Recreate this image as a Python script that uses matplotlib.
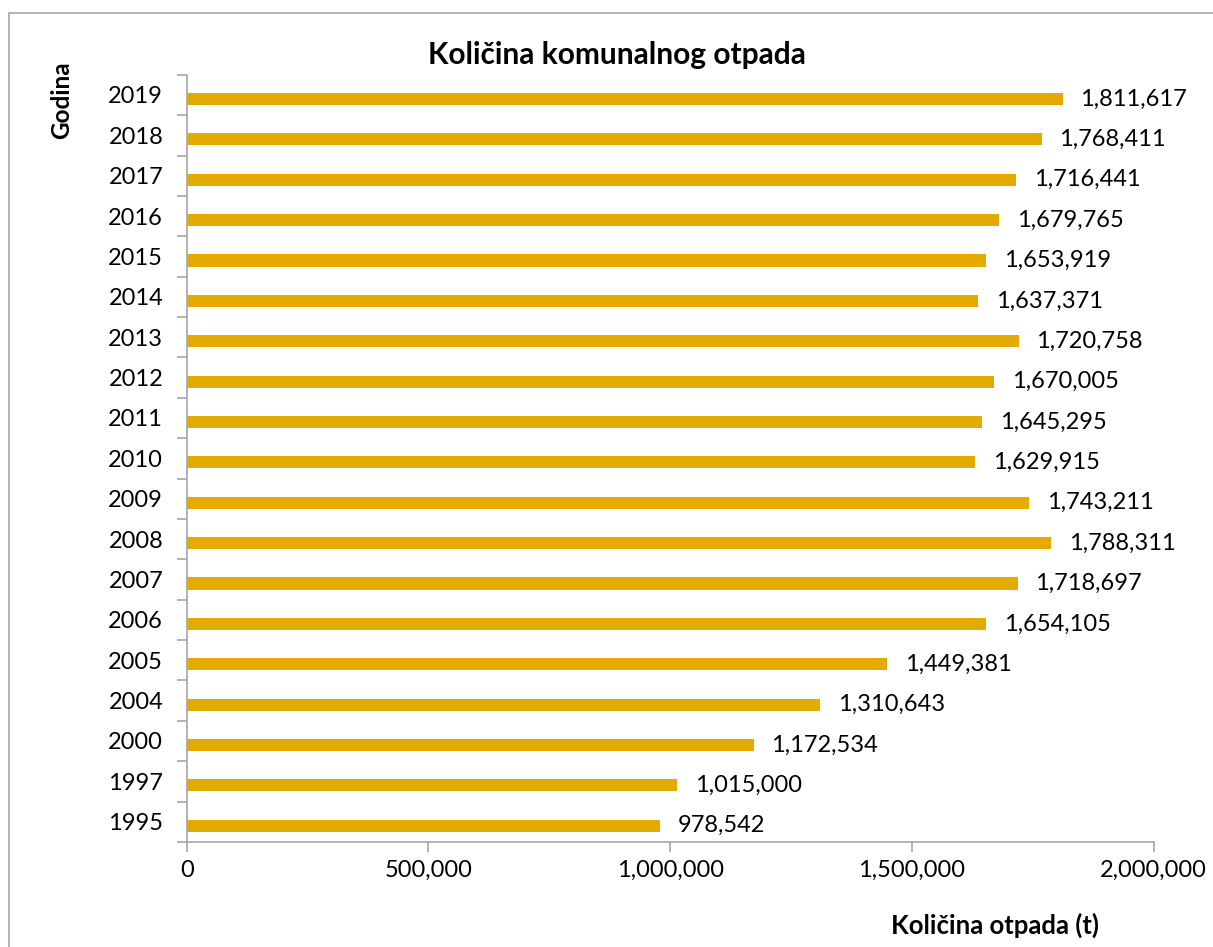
import matplotlib.pyplot as plt
import numpy as np
from matplotlib.patches import Rectangle
from matplotlib.ticker import FuncFormatter

years = ['1995', '1997', '2000', '2004', '2005', '2006', '2007', '2008', '2009', '2010',
         '2011', '2012', '2013', '2014', '2015', '2016', '2017', '2018', '2019']
waste = [978542, 1015000, 1172534, 1310643, 1449381, 1654105, 1718697, 1788311, 1743211, 1629915,
         1645295, 1670005, 1720758, 1637371, 1653919, 1679765, 1716441, 1768411, 1811617]

plt.rcParams['font.family'] = ['Lato', 'DejaVu Sans']
bar_color = '#E3AB00'
grey = '#A6A6A6'

fig = plt.figure(figsize=(12.13, 9.47), dpi=100)
ax = fig.add_axes([0.154, 0.111, 0.797, 0.810])

# grey chart border, runs off the right and bottom edges
fig.patches.append(Rectangle((9 / 1213, -0.02), 1.1, 1 - 13 / 947 + 0.02,
                             transform=fig.transFigure, fill=False, edgecolor=grey, lw=1.2))

y = np.arange(len(years))
ax.barh(y - 0.1, waste, height=0.3, color=bar_color)

fmt = lambda v: f'{int(v):,}'
for yi, v in zip(y, waste):
    ax.text(v + 37000, yi - 0.1, fmt(v), va='center', ha='left', fontsize=17)

ax.set_xlim(0, 2000000)
ax.set_ylim(-0.5, len(years) - 0.5)
ax.set_xticks([0, 500000, 1000000, 1500000, 2000000])
ax.xaxis.set_major_formatter(FuncFormatter(lambda v, p: fmt(v)))
ax.set_yticks(y)
ax.set_yticklabels(years)
ax.set_yticks(np.arange(-0.5, len(years)), minor=True)
ax.tick_params(axis='y', which='major', length=0, pad=17, labelsize=17)
ax.tick_params(axis='y', which='minor', length=7, color=grey, width=1.2)
ax.tick_params(axis='x', length=7, color=grey, width=1.2, direction='out', pad=6, labelsize=17)

for s in ['top', 'right']:
    ax.spines[s].set_visible(False)
for s in ['left', 'bottom']:
    ax.spines[s].set_color(grey)
    ax.spines[s].set_linewidth(1.2)

fig.text(617 / 1213, 1 - 55 / 947, 'Količina komunalnog otpada', ha='center', va='center',
         fontsize=21.5, fontweight='bold')
fig.text(62 / 1213, 1 - 100 / 947, 'Godina', ha='center', va='center', rotation=90,
         fontsize=17.5, fontweight='bold')
fig.text(995 / 1213, 1 - 925 / 947, 'Količina otpada (t)', ha='center', va='center',
         fontsize=18.5, fontweight='bold')

fig.savefig('out.png', dpi=100)
